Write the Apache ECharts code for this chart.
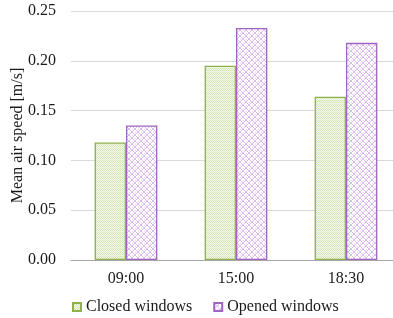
<!DOCTYPE html>
<html><head><meta charset="utf-8">
<script src="https://cdn.jsdelivr.net/npm/echarts@6/dist/echarts.min.js"></script>
<style>html,body{margin:0;padding:0;background:#fff}#c{width:393px;height:318px}</style>
</head><body><div id="c"></div>
<script>
var categories = ['09:00', '15:00', '18:30'];
var closedWindows = [0.118, 0.195, 0.164];
var openedWindows = [0.135, 0.233, 0.218];
var yTicks = ['0.00', '0.05', '0.10', '0.15', '0.20', '0.25'];
var seriesNames = ['Closed windows', 'Opened windows'];

function makeChecker() {
  var c = document.createElement('canvas'); c.width = 4; c.height = 4;
  var g = c.getContext('2d');
  g.fillStyle = '#f4f8ec'; g.fillRect(0, 0, 4, 4);
  g.fillStyle = '#d2e4b0';
  g.fillRect(0, 0, 1, 1); g.fillRect(2, 0, 1, 1); g.fillRect(1, 1, 1, 1); g.fillRect(3, 1, 1, 1);
  g.fillRect(0, 2, 1, 1); g.fillRect(2, 2, 1, 1);
  g.fillStyle = '#e4eed2';
  g.fillRect(1, 3, 1, 1); g.fillRect(3, 3, 1, 1);
  return c;
}
function makeCross() {
  var c = document.createElement('canvas'); c.width = 6; c.height = 6;
  var g = c.getContext('2d');
  g.fillStyle = '#ffffff'; g.fillRect(0, 0, 6, 6);
  g.fillStyle = '#dcbcea';
  for (var i = 0; i < 6; i++) {
    g.fillRect(i, i, 1, 1);
    g.fillRect(5 - i, i, 1, 1);
  }
  g.fillStyle = '#e8d4f0';
  g.fillRect(3, 0, 1, 1); g.fillRect(0, 3, 1, 1);
  return c;
}

var chart = echarts.init(document.getElementById('c'), null, {renderer: 'canvas'});
var font = 'Liberation Serif';
var txt = '#1a1a1a';
chart.setOption({
  animation: false,
  textStyle: {fontFamily: font},
  grid: {left: 71, right: -8, top: 11, bottom: 58, containLabel: false, outerBoundsMode: 'none'},
  legend: {
    left: 72, top: 299, padding: 0, itemWidth: 8, itemHeight: 8, itemGap: 21,
    icon: 'rect',
    textStyle: {fontFamily: font, fontSize: 16, color: txt},
    data: seriesNames
  },
  xAxis: {
    type: 'category', data: categories,
    axisLine: {lineStyle: {color: '#a6a6a6', width: 1}},
    axisTick: {show: false},
    axisLabel: {fontFamily: font, fontSize: 16, color: txt, margin: 11}
  },
  yAxis: {
    type: 'value', min: 0, max: 0.25, interval: 0.05,
    name: 'Mean air speed [m/s]', nameLocation: 'middle', nameGap: 45, nameMoveOverlap: false,
    nameTextStyle: {fontFamily: font, fontSize: 16, color: txt},
    axisLine: {show: false}, axisTick: {show: false},
    splitLine: {lineStyle: {color: '#d9d9d9', width: 1}},
    axisLabel: {fontFamily: font, fontSize: 16, color: txt, margin: 15,
      formatter: function (v) { return yTicks[Math.round(v / 0.05)]; }}
  },
  series: [
    {name: seriesNames[0], type: 'bar', data: closedWindows, barGap: '0%', barCategoryGap: '43%',
     itemStyle: {color: {image: makeChecker(), repeat: 'repeat'}, borderColor: '#8fb04c', borderWidth: 1.3}},
    {name: seriesNames[1], type: 'bar', data: openedWindows,
     itemStyle: {color: {image: makeCross(), repeat: 'repeat'}, borderColor: '#a065c0', borderWidth: 1.3}}
  ]
});
</script></body></html>
